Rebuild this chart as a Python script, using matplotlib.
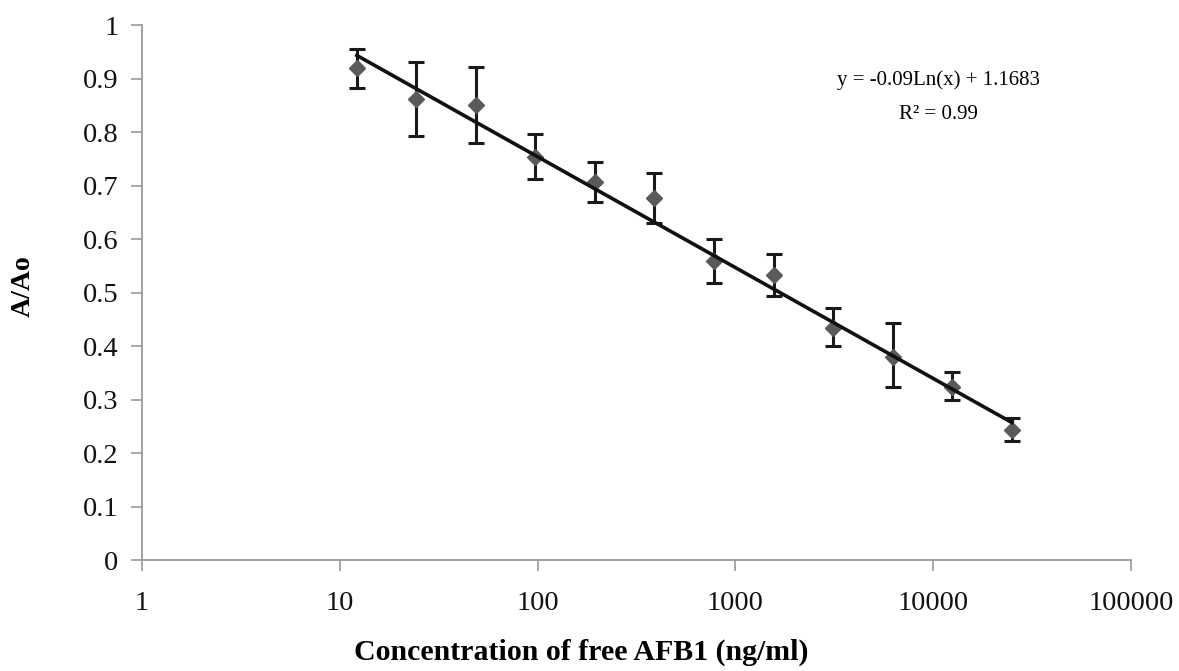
import matplotlib
matplotlib.use("Agg")
import matplotlib.pyplot as plt
import numpy as np

conc = [12.2, 24.4, 48.8, 97.6, 195, 390, 781, 1562, 3125, 6250, 12500, 25000]
ratio = [0.920, 0.862, 0.850, 0.753, 0.706, 0.676, 0.559, 0.533, 0.434, 0.380, 0.323, 0.243]
err_top = [0.955, 0.931, 0.922, 0.796, 0.744, 0.723, 0.600, 0.572, 0.471, 0.443, 0.351, 0.265]
err_bot = [0.882, 0.793, 0.780, 0.712, 0.669, 0.630, 0.518, 0.493, 0.400, 0.323, 0.299, 0.222]

slope = -0.09
intercept = 1.1683
r2 = 0.99

plt.rcParams['font.family'] = ['Liberation Serif', 'DejaVu Serif']

fig = plt.figure(figsize=(11.79, 6.71), dpi=100)
ax = fig.add_axes([0.1204, 0.1654, 0.8389, 0.7973])

c = np.array(conc)
r = np.array(ratio)
yerr = [r - np.array(err_bot), np.array(err_top) - r]

ax.errorbar(c, r, yerr=yerr, fmt='D', color='#5a5a5a', markersize=8.5,
            ecolor='#1a1a1a', elinewidth=2.2, capsize=6, capthick=2.2, zorder=3)

# log trendline from the fitted equation
xl = np.array([c[0], c[-1]])
ax.plot(xl, slope * np.log(xl) + intercept, color='#111111', lw=2.6, zorder=4)

ax.set_xscale('log')
ax.set_xlim(1, 100000)
ax.set_ylim(0, 1)
ax.set_xticks([1, 10, 100, 1000, 10000, 100000])
ax.set_xticklabels(['1', '10', '100', '1000', '10000', '100000'])
ax.minorticks_off()
ax.set_yticks(np.arange(0, 1.01, 0.1))
ax.set_yticklabels(['0', '0.1', '0.2', '0.3', '0.4', '0.5', '0.6', '0.7', '0.8', '0.9', '1'])

for s in ['top', 'right']:
    ax.spines[s].set_visible(False)
for s in ['left', 'bottom']:
    ax.spines[s].set_color('#9a9a9a')
    ax.spines[s].set_linewidth(1.3)
ax.tick_params(axis='both', colors='#9a9a9a', length=8, width=1.2, labelsize=20.5,
               labelcolor='#111111')
ax.tick_params(axis='x', pad=14)
ax.tick_params(axis='y', pad=9)

fig.text(581 / 1179, 1 - 652 / 671, 'Concentration of free AFB1 (ng/ml)',
         fontsize=21.5, fontweight='bold', ha='center', va='center')
fig.text(23 / 1179, 1 - 286 / 671, 'A/Ao', fontsize=20, fontweight='bold',
         rotation=90, ha='center', va='center')

ax.text(0.805, 0.897, 'y = -0.09Ln(x) + 1.1683', transform=ax.transAxes,
        ha='center', va='center', fontsize=15)
ax.text(0.805, 0.832, 'R\u00b2 = ' + str(r2), transform=ax.transAxes,
        ha='center', va='center', fontsize=15)

fig.savefig('out.png', dpi=100)
